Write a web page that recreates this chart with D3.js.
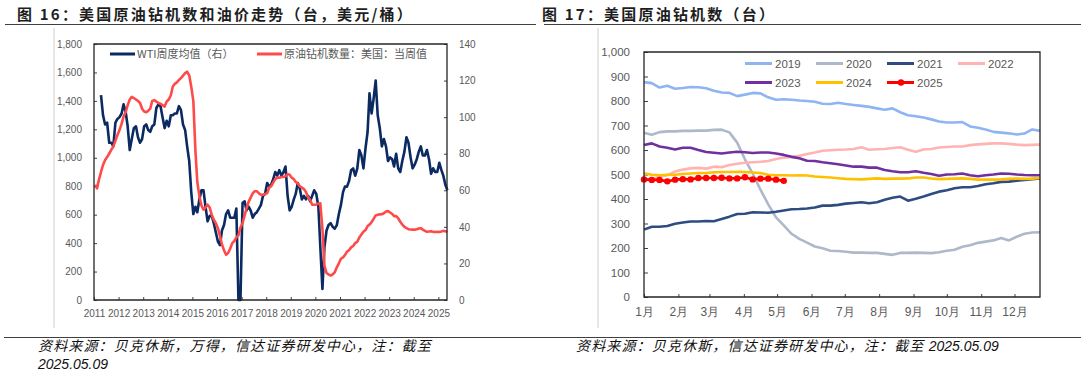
<!DOCTYPE html>
<html>
<head>
<meta charset="utf-8">
<script src="https://cdn.jsdelivr.net/npm/d3@7/dist/d3.min.js"></script>
<style>
  body { margin: 0; background: #fff; }
  svg text { font-family: "Liberation Sans", Arial, sans-serif; }
  .cjk { font-family: "Noto Sans CJK SC", "Liberation Sans", sans-serif; }
</style>
</head>
<body>
<div id="chartplace"></div>
<script>
// ---- 图16 data: monthly values ----
var rigStart = "2011-01";   // 原油钻机数量：美国：当周值 (left axis)
var rigCount = [
  810, 785, 845, 900, 950, 985, 1005, 1030, 1055, 1080, 1120, 1160,
  1195, 1240, 1290, 1320, 1370, 1410, 1428, 1420, 1410, 1400, 1385, 1345,
  1325, 1320, 1330, 1345, 1400, 1405, 1395, 1385, 1380, 1370, 1360, 1395,
  1410, 1440, 1500, 1520, 1530, 1547, 1560, 1578, 1595, 1605, 1580, 1500,
  1400, 1050, 830, 730, 665, 635, 650, 670, 650, 600, 565, 540,
  505, 450, 390, 350, 318, 330, 360, 400, 415, 440, 455, 510,
  540, 595, 645, 690, 720, 750, 765, 765, 750, 740, 740, 745,
  750, 790, 800, 825, 850, 860, 860, 865, 865, 870, 885, 880,
  860, 850, 830, 820, 800, 790, 780, 760, 720, 705, 670, 670,
  672, 678, 680, 500, 240, 190, 180, 172, 180, 195, 230, 258,
  290, 300, 315, 340, 350, 370, 380, 400, 410, 440, 460, 480,
  492, 520, 530, 548, 570, 595, 600, 602, 603, 610, 622, 625,
  615, 605, 590, 590, 575, 550, 530, 515, 505, 498, 496, 495,
  495, 497, 503, 505, 495, 486, 480, 482, 484, 479, 478, 480,
  478, 482, 486, 484, 478
];
var wtiStart = "2011-04";   // WTI周度均值（右）
var wtiPrice = [
  112, 101, 96, 97, 86, 86, 84, 97, 99,
  100, 102, 107, 103, 95, 82, 88, 94, 95, 89, 86, 88,
  95, 96, 93, 92, 95, 96, 105, 107, 106, 100, 94, 98,
  95, 101, 101, 102, 102, 106, 104, 96, 93, 84, 76, 59,
  47, 51, 48, 55, 60, 60, 51, 43, 46, 46, 42, 37,
  32, 30, 38, 41, 47, 49, 45, 45, 45, 50, 0, 0,
  53, 54, 49, 51, 49, 45, 47, 48, 50, 52, 57, 58,
  64, 62, 63, 66, 70, 68, 71, 68, 70, 73, 57, 49,
  51, 55, 58, 64, 61, 55, 57, 55, 57, 54, 57, 60,
  58, 51, 29, 6, 29, 38, 41, 42, 40, 39, 41, 47,
  52, 59, 62, 62, 65, 71, 72, 68, 72, 82, 79, 72,
  83, 92, 113, 102, 110, 120, 101, 94, 84, 88, 84, 76,
  78, 77, 73, 80, 72, 70, 76, 81, 89, 86, 78, 72,
  74, 77, 81, 84, 79, 79, 82, 77, 69, 72, 70, 70,
  75, 71, 68, 63, 60
];
var yearLabels = ["2011","2012","2013","2014","2015","2016","2017","2018",
                  "2019","2020","2021","2022","2023","2024","2025"];
var leftTicks = [0, 200, 400, 600, 800, 1000, 1200, 1400, 1600, 1800];
var rightTicks = [0, 20, 40, 60, 80, 100, 120, 140];

// ---- 图17 data: weekly oil rig count by year ----
var seasonYears = ["2019", "2020", "2021", "2022", "2023", "2024", "2025"];
var rigs2019 = [877, 873, 855, 862, 850, 853, 857, 856, 852, 842, 835, 833, 820,
  826, 833, 831, 815, 805, 807, 805, 802, 800, 797, 789, 788, 793, 788, 784, 780,
  776, 770, 764, 770, 754, 742, 738, 733, 725, 716, 712, 712, 714, 696, 691, 684,
  674, 671, 668, 663, 667, 684, 678];
var rigs2020 = [670, 662, 673, 676, 676, 678, 678, 679, 679, 682, 683, 672, 630,
  562, 504, 438, 378, 325, 292, 258, 237, 222, 206, 199, 189, 188, 185, 181, 181,
  180, 180, 176, 172, 180, 180, 181, 180, 179, 183, 189, 193, 205, 211, 221, 226,
  231, 241, 231, 246, 258, 263, 264];
var rigs2021 = [275, 287, 287, 290, 299, 304, 308, 308, 310, 309, 318, 328, 339,
  340, 346, 345, 344, 348, 353, 358, 359, 361, 365, 373, 373, 376, 381, 384, 387,
  383, 387, 397, 405, 410, 393, 401, 410, 420, 430, 436, 444, 448, 448, 453, 460,
  464, 470, 471, 475, 478, 481, 484];
var rigs2022 = [480, 481, 492, 497, 512, 520, 525, 527, 524, 532, 530, 539, 544,
  548, 550, 552, 555, 563, 569, 572, 576, 584, 590, 597, 599, 601, 602, 604, 611,
  601, 603, 604, 608, 611, 601, 593, 602, 604, 610, 612, 614, 614, 620, 623, 625,
  627, 627, 625, 622, 620, 621, 622];
var rigs2023 = [620, 627, 614, 609, 602, 609, 609, 600, 592, 589, 586, 590, 593,
  591, 588, 590, 590, 586, 580, 572, 566, 556, 555, 550, 546, 542, 537, 532, 532,
  528, 528, 518, 513, 509, 509, 513, 507, 502, 495, 500, 501, 504, 497, 493, 497,
  500, 504, 503, 500, 498, 497, 497];
var rigs2024 = [505, 499, 497, 499, 499, 502, 504, 506, 506, 509, 510, 510, 511,
  510, 508, 506, 499, 497, 497, 496, 497, 496, 492, 490, 488, 485, 482, 481, 480,
  482, 484, 482, 483, 483, 484, 488, 488, 484, 481, 482, 483, 484, 482, 479, 479,
  479, 480, 482, 483, 482, 483, 486];
var rigs2025 = [480, 478, 478, 472, 479, 481, 480, 486, 486, 486, 487, 484, 484,
  489, 480, 483, 483, 479, 474];
var monthLabels = ["1月","2月","3月","4月","5月","6月","7月","8月","9月","10月","11月","12月"];
var rigTicks = [0, 100, 200, 300, 400, 500, 600, 700, 800, 900, 1000];

var W = 1088, H = 381;
var gray = "#595959";
var svg = d3.select("#chartplace").append("svg")
  .attr("width", W).attr("height", H);
svg.append("rect").attr("width", W).attr("height", H).attr("fill", "#fff");

// titles, rules, sources
function header(x, x1, x2, title){
  svg.append("text").attr("class", "cjk")
    .attr("x", x).attr("y", 20)
    .attr("font-size", 15).attr("font-weight", "bold")
    .attr("letter-spacing", 2.2).attr("fill", "#1e1e1e")
    .text(title);
  svg.append("line").attr("x1", x1).attr("x2", x2)
    .attr("y1", 24.5).attr("y2", 24.5)
    .attr("stroke", "#404040").attr("stroke-width", 1.2);
}
header(17, 5, 536, "图 16：美国原油钻机数和油价走势（台，美元/桶）");
header(542, 544, 1081, "图 17：美国原油钻机数（台）");
svg.append("line").attr("x1", 4).attr("x2", 1081).attr("y1", 337.5).attr("y2", 337.5)
  .attr("stroke", "#404040").attr("stroke-width", 1.2);
function source(x, y, cjkPart, datePart){
  var t = svg.append("text").attr("class", "cjk")
    .attr("x", x).attr("y", y)
    .attr("font-size", 14).attr("font-style", "italic").attr("fill", "#111");
  if (cjkPart) t.append("tspan").attr("letter-spacing", 1.15).text(cjkPart);
  if (datePart) t.append("tspan")
    .attr("font-family", "'Liberation Sans', Arial, sans-serif").text(datePart);
}
source(38, 351, "资料来源：贝克休斯，万得，信达证券研发中心，注：截至", null);
source(38, 369, null, "2025.05.09");
source(576, 351, "资料来源：贝克休斯，信达证券研发中心，注：截至 ", "2025.05.09");

// light chart-area edges
[54, 598].forEach(function(x){
  svg.append("line").attr("x1", x).attr("x2", x).attr("y1", 28).attr("y2", 328)
    .attr("stroke", "#d0d0d0").attr("stroke-width", 1);
});

function styleAxis(g, size){
  g.select(".domain").remove();
  g.selectAll(".tick line").attr("stroke", "#404040");
  g.selectAll(".tick text").attr("fill", gray).attr("font-size", size)
    .attr("font-family", "'Liberation Sans', Arial, sans-serif");
}

// ================= 图16 =================
var parseMonth = d3.timeParse("%Y-%m");
function monthSeries(start, values){
  var s = parseMonth(start);
  return values.map(function(v, i){
    var d = d3.timeMonth.offset(s, i);
    return { date: d3.timeDay.offset(d, 14), value: v };
  });
}
var rigData = monthSeries(rigStart, rigCount);
var wtiData = monthSeries(wtiStart, wtiPrice);

var L = { left: 94, right: 447, top: 44, bottom: 300 };
var xL = d3.scaleTime()
  .domain([new Date(2011, 0, 1), new Date(2025, 4, 9)])
  .range([L.left, L.right]);
var yL = d3.scaleLinear().domain([0, 1800]).range([L.bottom, L.top]);
var yR = d3.scaleLinear().domain([0, 140]).range([L.bottom, L.top]);

var gL = svg.append("g");
gL.append("g").attr("transform", "translate(" + L.left + ",0)")
  .call(d3.axisLeft(yL).tickValues(leftTicks).tickFormat(d3.format(","))
    .tickSizeInner(-3).tickSizeOuter(0).tickPadding(12))
  .call(styleAxis, 10);
gL.append("g").attr("transform", "translate(" + L.right + ",0)")
  .call(d3.axisRight(yR).tickValues(rightTicks)
    .tickSizeInner(-3).tickSizeOuter(0).tickPadding(12))
  .call(styleAxis, 10);
gL.append("g").attr("transform", "translate(0," + L.bottom + ")")
  .call(d3.axisBottom(xL)
    .tickValues(yearLabels.map(function(y){ return new Date(+y, 0, 1); }))
    .tickFormat(d3.timeFormat("%Y"))
    .tickSizeInner(-3).tickSizeOuter(0).tickPadding(10))
  .call(styleAxis, 10);

var lineRig = d3.line().x(function(d){ return xL(d.date); }).y(function(d){ return yL(d.value); });
var lineWti = d3.line().x(function(d){ return xL(d.date); }).y(function(d){ return yR(d.value); });
gL.append("path").attr("d", lineWti(wtiData))
  .attr("fill", "none").attr("stroke", "#0b2a62").attr("stroke-width", 2.6)
  .attr("stroke-linejoin", "round");
gL.append("path").attr("d", lineRig(rigData))
  .attr("fill", "none").attr("stroke", "#ff4a4a").attr("stroke-width", 2.6)
  .attr("stroke-linejoin", "round");

// frame
gL.append("path")
  .attr("d", "M" + L.left + "," + L.bottom + "V" + L.top + "H" + L.right + "V" + L.bottom + "Z")
  .attr("fill", "none").attr("stroke", "#262626").attr("stroke-width", 1.3);

// legend
var legL = [
  { x: 110, label: "WTI周度均值（右）", color: "#0b2a62" },
  { x: 257, label: "原油钻机数量：美国：当周值", color: "#ff4a4a" }
];
legL.forEach(function(d){
  gL.append("line").attr("x1", d.x).attr("x2", d.x + 25).attr("y1", 54).attr("y2", 54)
    .attr("stroke", d.color).attr("stroke-width", 3);
  gL.append("text").attr("class", "cjk").attr("x", d.x + 27).attr("y", 58)
    .attr("font-size", 11).attr("fill", gray).text(d.label);
});

// ================= 图17 =================
var R = { left: 644, right: 1040, top: 52, bottom: 297 };
var xW = d3.scaleLinear().domain([0, 51]).range([R.left, R.right]);
var yW = d3.scaleLinear().domain([0, 1000]).range([R.bottom, R.top]);
var gR = svg.append("g");

gR.append("g").attr("transform", "translate(" + R.left + ",0)")
  .call(d3.axisLeft(yW).tickValues(rigTicks).tickFormat(d3.format(","))
    .tickSizeInner(-4).tickSizeOuter(0).tickPadding(14))
  .call(styleAxis, 11.5);

// month ticks at the week position of each month start
var monthWeeks = monthLabels.map(function(m, i){
  return d3.timeDay.count(new Date(2019, 0, 1), new Date(2019, i, 1)) / 7;
});
gR.append("g").attr("transform", "translate(0," + R.bottom + ")")
  .call(d3.axisBottom(xW).tickValues(monthWeeks)
    .tickFormat(function(d, i){ return monthLabels[i]; })
    .tickSizeInner(-3).tickSizeOuter(0).tickPadding(10))
  .call(styleAxis, 12);
gR.selectAll(".tick text").attr("font-family", "'Noto Sans CJK SC', sans-serif");

var seasonData = [rigs2019, rigs2020, rigs2021, rigs2022, rigs2023, rigs2024, rigs2025];
var seasonColors = ["#8fb4f2", "#adb9ca", "#2e4c82", "#ffb3b3", "#7030a0", "#ffc000", "#ff0000"];
var lineW = d3.line().x(function(d, i){ return xW(i); }).y(function(d){ return yW(d); });

seasonData.forEach(function(vals, k){
  gR.append("path").attr("d", lineW(vals))
    .attr("fill", "none").attr("stroke", seasonColors[k]).attr("stroke-width", 2.6)
    .attr("stroke-linejoin", "round");
});
gR.selectAll(".dot2025").data(rigs2025).enter().append("circle")
  .attr("cx", function(d, i){ return xW(i); })
  .attr("cy", function(d){ return yW(d); })
  .attr("r", 3.2).attr("fill", "#ff0000");

gR.append("path")
  .attr("d", "M" + R.left + "," + R.bottom + "V" + R.top + "H" + R.right + "V" + R.bottom + "Z")
  .attr("fill", "none").attr("stroke", "#262626").attr("stroke-width", 1.3);

// legend (4 per row)
seasonYears.forEach(function(y, k){
  var lx = 745 + (k % 4) * 71;
  var ly = k < 4 ? 63.5 : 82.5;
  gR.append("line").attr("x1", lx).attr("x2", lx + 27).attr("y1", ly).attr("y2", ly)
    .attr("stroke", seasonColors[k]).attr("stroke-width", 3);
  if (y === "2025") {
    gR.append("circle").attr("cx", lx + 14).attr("cy", ly).attr("r", 3.2).attr("fill", seasonColors[k]);
  }
  gR.append("text").attr("x", lx + 30).attr("y", ly + 4.2)
    .attr("font-size", 11.5).attr("fill", gray).text(y);
});
</script>
</body>
</html>
